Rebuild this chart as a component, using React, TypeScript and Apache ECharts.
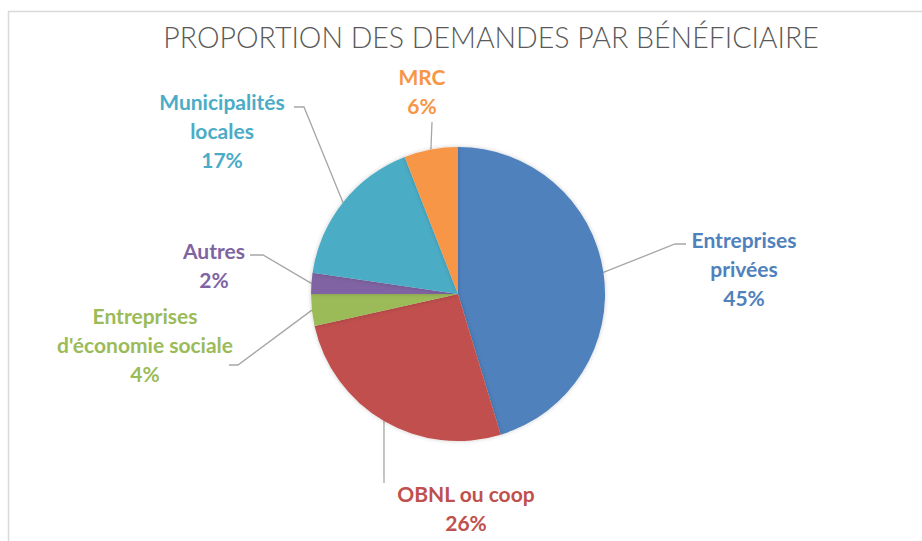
import React, { useEffect, useRef } from "react";
import * as echarts from "echarts";

const TITLE = "PROPORTION DES DEMANDES PAR BÉNÉFICIAIRE";
const categories = [
  "Entreprises\nprivées",
  "OBNL ou coop",
  "Entreprises\nd'économie sociale",
  "Autres",
  "Municipalités\nlocales",
  "MRC",
];
const values = [45.3, 26.2, 3.5, 2.3, 16.8, 5.9];
const colors = ["#4F81BD", "#C0504D", "#9BBB59", "#8064A2", "#4BACC6", "#F79646"];

// label placement (label center, leader-line elbow, leader-line end)
const labelPos: { x: number; y: number; elbow: number[]; end: number[] }[] = [
  { x: 744, y: 268, elbow: [675, 244], end: [686, 244] },
  { x: 466, y: 508, elbow: [384, 483], end: [384, 483] },
  { x: 145, y: 344, elbow: [238, 365], end: [229, 365] },
  { x: 214, y: 265, elbow: [263, 255], end: [250, 255] },
  { x: 222, y: 130, elbow: [304, 107], end: [294, 107] },
  { x: 422, y: 91, elbow: [432, 122], end: [432, 122] },
];

export default function App() {
  const ref = useRef<HTMLDivElement>(null);
  useEffect(() => {
    if (!ref.current) return;
    const chart = echarts.init(ref.current, null, { renderer: "svg" });
    chart.setOption({
      animation: false,
      backgroundColor: "#ffffff",
      graphic: [
        {
          type: "rect",
          shape: { x: 8.5, y: 11.5, width: 930, height: 540 },
          style: { fill: "none", stroke: "#d9d9d9", lineWidth: 1.5 },
          silent: true,
        },
        {
          type: "text",
          x: 491,
          y: 37,
          style: {
            text: TITLE,
            fill: "#595959",
            font: "300 28.5px Lato",
            align: "center",
            verticalAlign: "middle",
          },
        },
      ],
      series: [
        {
          type: "pie",
          center: [458, 294],
          radius: 147,
          startAngle: 90,
          clockwise: true,
          avoidLabelOverlap: false,
          itemStyle: {
            borderWidth: 0,
            shadowBlur: 4,
            shadowColor: "rgba(0,0,0,0.2)",
          },
          label: {
            show: true,
            position: "outside",
            fontFamily: "Lato",
            fontWeight: "bold",
            fontSize: 21,
            lineHeight: 29,
            align: "center",
            formatter: (p: any) => `${p.name}\n${Math.round(p.percent)}%`,
          },
          labelLine: {
            show: true,
            lineStyle: { color: "#a6a6a6", width: 1.3 },
          },
          labelLayout: (params: any) => {
            const lp = labelPos[params.dataIndex];
            const anchor = params.labelLinePoints ? params.labelLinePoints[0] : lp.elbow;
            return {
              x: lp.x,
              y: lp.y,
              align: "center",
              verticalAlign: "middle",
              labelLinePoints: [anchor, lp.elbow, lp.end],
            };
          },
          data: categories.map((name, i) => ({
            name,
            value: values[i],
            itemStyle: { color: colors[i] },
            label: { color: colors[i] },
          })),
        },
      ],
    });
    return () => chart.dispose();
  }, []);
  return (
    <div
      ref={ref}
      style={{ position: "fixed", left: 0, top: 0, width: 922, height: 541 }}
    />
  );
}
